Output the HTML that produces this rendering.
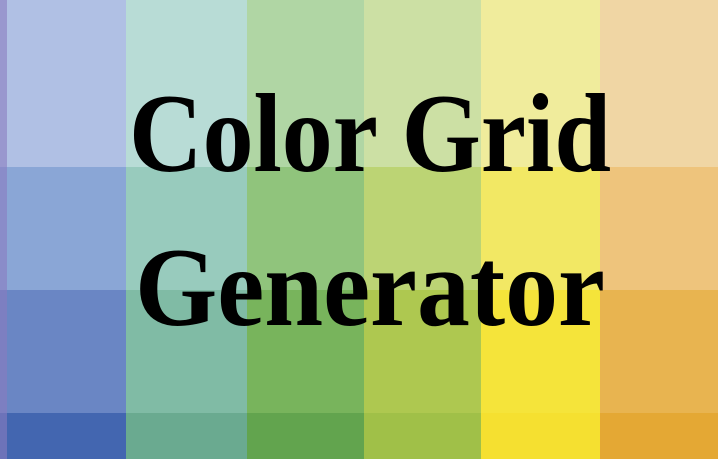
<!DOCTYPE html>
<html><head><meta charset="utf-8"><style>
html,body{margin:0;padding:0;width:718px;height:459px;overflow:hidden}
</style></head><body>
<svg width="718" height="459" viewBox="0 0 718 459">
<g id="grid"></g>
<rect x="0" y="0" width="7" height="459" fill="#8a7cc0" opacity="0.6"/>
<text x="370" y="171" text-anchor="middle" font-family="Liberation Serif, serif" font-weight="bold" font-size="112" textLength="482" lengthAdjust="spacingAndGlyphs" fill="#000">Color Grid</text>
<text x="370" y="325" text-anchor="middle" font-family="Liberation Serif, serif" font-weight="bold" font-size="112" textLength="470" lengthAdjust="spacingAndGlyphs" fill="#000">Generator</text>
</svg>
<script>
const colEdges=[0,126,247,364,481,600,718];
const rowEdges=[0,167,290,413,459];
const colors=[
 ["#b0c0e4","#8aa6d6","#6a86c4","#4366b0"],
 ["#b8dcd6","#98cbbd","#80bba5","#6aaa90"],
 ["#b0d6a4","#90c47c","#78b45c","#62a44e"],
 ["#cce0a4","#bcd474","#aec850","#a0c048"],
 ["#f0ec9c","#f2e864","#f5e43a","#f5e030"],
 ["#f0d6a4","#eec47c","#e8b450","#e4a834"]];
const g=document.getElementById('grid');
for(let c=0;c<6;c++)for(let r=0;r<4;r++){
 const el=document.createElementNS('http://www.w3.org/2000/svg','rect');
 el.setAttribute('x',colEdges[c]);el.setAttribute('y',rowEdges[r]);
 el.setAttribute('width',colEdges[c+1]-colEdges[c]);el.setAttribute('height',rowEdges[r+1]-rowEdges[r]);
 el.setAttribute('fill',colors[c][r]);
 
 
 g.appendChild(el);
}
</script>
</body></html>
